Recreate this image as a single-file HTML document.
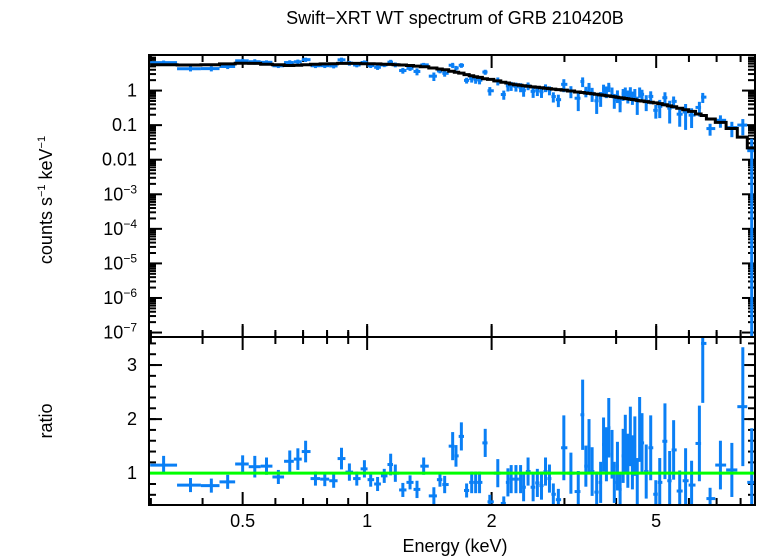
<!DOCTYPE html>
<html><head><meta charset="utf-8"><style>
html,body{margin:0;padding:0;background:#fff;width:758px;height:556px;overflow:hidden}
svg text{font-family:"Liberation Sans",sans-serif;fill:#000}
</style></head><body>
<svg id="chart" width="758" height="556" viewBox="0 0 758 556" xmlns="http://www.w3.org/2000/svg">
<defs>
<clipPath id="clipTop"><rect x="150" y="56" width="604" height="280"/></clipPath>
<clipPath id="clipBot"><rect x="150" y="338" width="604" height="166"/></clipPath>
</defs>
<text x="455" y="24" font-size="18" text-anchor="middle">Swift−XRT WT spectrum of GRB 210420B</text>
<text transform="translate(52,200) rotate(-90)" font-size="18" text-anchor="middle">counts s<tspan font-size="11" dy="-7">−1</tspan><tspan dy="7"> keV</tspan><tspan font-size="11" dy="-7">−1</tspan></text>
<text transform="translate(52,421) rotate(-90)" font-size="18" text-anchor="middle">ratio</text>
<text x="455" y="552" font-size="18" text-anchor="middle">Energy (keV)</text>
<g id="gTicks"></g>
<g id="gTop" clip-path="url(#clipTop)"></g>
<g id="gBot" clip-path="url(#clipBot)"></g>
<rect x="149" y="55" width="606" height="282" fill="none" stroke="#000" stroke-width="2"/>
<rect x="149" y="337" width="606" height="168" fill="none" stroke="#000" stroke-width="2"/>
</svg>
<script>
const energies=[0.322,0.374,0.42,0.46,0.50,0.535,0.571,0.61,0.65,0.68,0.71,0.75,0.79,0.83,0.867,0.906,0.944,0.985,1.02,1.06,1.10,1.14,1.17,1.22,1.27,1.32,1.37,1.45,1.50,1.54,1.61,1.64,1.69,1.74,1.79,1.83,1.87,1.93,1.98,2.07,2.14,2.19,2.23,2.29,2.35,2.39,2.45,2.52,2.58,2.64,2.70,2.76,2.82,2.90,2.99,3.11,3.24,3.32,3.38,3.44,3.50,3.59,3.67,3.73,3.79,3.84,3.91,3.96,4.03,4.09,4.16,4.21,4.27,4.33,4.38,4.44,4.50,4.56,4.62,4.73,4.85,4.99,5.10,5.25,5.39,5.51,5.70,5.89,6.09,6.36,6.48,6.75,7.15,7.62,8.10,8.51];
const ratios=[1.15,0.78,0.77,0.84,1.17,1.12,1.13,0.93,1.22,1.26,1.40,0.90,0.89,0.86,1.27,1.02,0.90,1.08,0.88,0.80,0.95,1.16,1.0,0.69,0.83,0.70,1.13,0.58,0.88,0.79,1.50,1.32,1.68,0.68,0.83,0.83,0.83,1.56,0.47,1.0,0.44,0.83,0.89,0.89,0.89,0.74,1.03,0.74,0.82,0.77,1.03,0.90,0.61,0.51,1.47,1.0,0.66,2.08,1.13,1.50,1.03,0.65,0.83,1.53,1.35,1.84,1.35,0.83,1.13,0.70,1.32,1.53,1.23,1.68,1.20,1.50,0.83,1.81,1.56,1.03,1.47,0.61,0.83,1.59,0.86,1.43,0.67,0.86,0.78,1.55,3.40,0.53,1.15,1.06,2.23,0.83];
const ratioErrs=[0.17,0.13,0.13,0.13,0.16,0.2,0.16,0.13,0.2,0.2,0.2,0.13,0.13,0.13,0.2,0.16,0.13,0.16,0.13,0.13,0.13,0.2,0.16,0.13,0.13,0.16,0.16,0.16,0.13,0.16,0.26,0.2,0.26,0.13,0.2,0.2,0.2,0.26,0.13,0.26,0.13,0.26,0.26,0.26,0.26,0.26,0.26,0.26,0.26,0.26,0.26,0.26,0.2,0.2,0.6,0.38,0.38,0.65,0.38,0.5,0.45,0.38,0.38,0.5,0.5,0.55,0.45,0.38,0.45,0.32,0.5,0.55,0.5,0.55,0.5,0.55,0.45,0.6,0.55,0.5,0.6,0.26,0.45,0.7,0.55,0.55,0.38,0.6,0.45,0.7,1.1,0.2,0.45,0.5,1.1,1.0];
const modelVals=[5.6,5.5,5.6,5.9,6.2,6.1,5.8,5.6,5.3,5.4,5.6,5.8,5.9,6.0,6.1,6.1,6.1,6.0,6.0,5.9,5.8,5.7,5.6,5.5,5.3,5.1,4.9,4.5,4.2,4.0,3.6,3.4,3.2,2.9,2.7,2.5,2.4,2.2,2.1,1.9,1.75,1.65,1.55,1.48,1.42,1.38,1.33,1.28,1.24,1.2,1.17,1.14,1.1,1.07,1.03,0.97,0.91,0.88,0.85,0.83,0.81,0.78,0.75,0.73,0.71,0.70,0.68,0.66,0.64,0.62,0.61,0.59,0.58,0.56,0.55,0.54,0.52,0.51,0.50,0.48,0.46,0.44,0.42,0.39,0.36,0.34,0.31,0.28,0.25,0.21,0.19,0.15,0.12,0.08,0.045,0.022];
const xMajorTicks=[0.5,1,2,5];
const xMajorLabels=["0.5","1","2","5"];
const xMinorTicks=[0.3,0.4,0.6,0.7,0.8,0.9,3,4,6,7,8];
const yTopExps=[0,-1,-2,-3,-4,-5,-6,-7];
const yTopLabels=["1","0.1","0.01","10|−3","10|−4","10|−5","10|−6","10|−7"];
const yBotMajor=[1,2,3];

const NS="http://www.w3.org/2000/svg";
const X0=150,X1=754,TY0=56,TY1=336,BY0=338,BY1=504;
const Emin=0.2985,Emax=8.62;
const LogTopMax=1.0,LogTopMin=-7.1;
const RMin=0.43,RMax=3.5;
function xs(e){return X0+(Math.log10(e)-Math.log10(Emin))/(Math.log10(Emax)-Math.log10(Emin))*(X1-X0);}
function yt(v){const l=Math.log10(Math.max(v,1e-12));return TY0+(LogTopMax-l)/(LogTopMax-LogTopMin)*(TY1-TY0);}
function yb(r){return BY0+(RMax-r)/(RMax-RMin)*(BY1-BY0);}
function mk(tag,attrs,parent){const el=document.createElementNS(NS,tag);for(const k in attrs)el.setAttribute(k,attrs[k]);parent.appendChild(el);return el;}
const gT=document.getElementById('gTicks'),gTop=document.getElementById('gTop'),gBot=document.getElementById('gBot');
const svg=document.getElementById('chart');

const edges=[];
for(let i=0;i<=energies.length;i++){
  if(i===0)edges.push(energies[0]*energies[0]/Math.sqrt(energies[0]*energies[1]));
  else if(i===energies.length)edges.push(energies[i-1]*energies[i-1]/Math.sqrt(energies[i-2]*energies[i-1]));
  else edges.push(Math.sqrt(energies[i-1]*energies[i]));
}
const blue="#0a7ff5";
energies.forEach((e,i)=>{
  const m=modelVals[i],r=ratios[i],er=ratioErrs[i];
  const xl=xs(edges[i]),xr=xs(edges[i+1]),xc=xs(e);
  const g1=mk('g',{},gTop);
  
  
  const yv=yt(m*r),yhi=yt(m*(r+er)),ylo=(r-er)>0?yt(m*(r-er)):TY1+5;
  mk('line',{x1:xl,x2:xr,y1:yv,y2:yv,stroke:blue,'stroke-width':3},g1);
  mk('line',{x1:xc,x2:xc,y1:yhi,y2:ylo,stroke:blue,'stroke-width':3},g1);
  const g2=mk('g',{},gBot);
  
  
  mk('line',{x1:xl,x2:xr,y1:yb(r),y2:yb(r),stroke:blue,'stroke-width':3},g2);
  mk('line',{x1:xc,x2:xc,y1:yb(r+er),y2:yb(r-er),stroke:blue,'stroke-width':3},g2);
});
let d="";
energies.forEach((e,i)=>{
  const y=yt(modelVals[i]);
  d+=(i===0?"M":"L")+xs(edges[i]).toFixed(1)+","+y.toFixed(1)+"L"+xs(edges[i+1]).toFixed(1)+","+y.toFixed(1);
});
const mp=mk('path',{d:d,fill:"none",stroke:"#000",'stroke-width':3},gTop);


const gl=mk('line',{x1:X0,x2:X1,y1:yb(1),y2:yb(1),stroke:"#00ff00",'stroke-width':3},gBot);



function xtick(e,len){
  const x=xs(e);
  [[TY0,TY0+len],[TY1,TY1-len],[BY0,BY0+len],[BY0,BY0-len],[BY1,BY1-len]].forEach(p=>{
    const t=mk('line',{x1:x,x2:x,y1:p[0],y2:p[1],stroke:"#000",'stroke-width':2},gT);
    
    
  });
}
xMajorTicks.forEach((e,i)=>{
  xtick(e,12);
  const t=mk('text',{x:xs(e),y:527,'font-size':18,'text-anchor':'middle'},svg);
  t.textContent=xMajorLabels[i];
  
  
});
xMinorTicks.forEach(e=>xtick(e,6));
yTopExps.forEach((p,i)=>{
  const y=yt(Math.pow(10,p));
  [[X0,X0+12],[X1,X1-12]].forEach(q=>{
    const t=mk('line',{x1:q[0],x2:q[1],y1:y,y2:y,stroke:"#000",'stroke-width':2},gT);
    
    
  });
  for(let k=2;k<=9;k++){
    const ym=yt(Math.pow(10,p)*k);
    if(ym<TY0)continue;
    [[X0,X0+6],[X1,X1-6]].forEach(q=>{
      const t=mk('line',{x1:q[0],x2:q[1],y1:ym,y2:ym,stroke:"#000",'stroke-width':2},gT);
      
      
    });
  }
  const lab=yTopLabels[i];
  const t=mk('text',{x:137,y:y+6,'font-size':18,'text-anchor':'end'},svg);
  
  
  if(lab.indexOf('|')>=0){
    const parts=lab.split('|');
    const a=mk('tspan',{},t);a.textContent=parts[0];
    const b=mk('tspan',{'font-size':12,dy:-7},t);b.textContent=parts[1];
  } else t.textContent=lab;
});
for(let r=0.6;r<=3.41;r+=0.2){
  const y=yb(r);
  [[X0,X0+6],[X1,X1-6]].forEach(q=>{
    const t=mk('line',{x1:q[0],x2:q[1],y1:y,y2:y,stroke:"#000",'stroke-width':2},gT);
    
    
  });
}
yBotMajor.forEach(r=>{
  const y=yb(r);
  [[X0,X0+12],[X1,X1-12]].forEach(q=>{
    const t=mk('line',{x1:q[0],x2:q[1],y1:y,y2:y,stroke:"#000",'stroke-width':2},gT);
    
    
  });
  const t=mk('text',{x:137,y:y+6,'font-size':18,'text-anchor':'end'},svg);
  t.textContent=String(r);
  
  
});
</script>
</body></html>
